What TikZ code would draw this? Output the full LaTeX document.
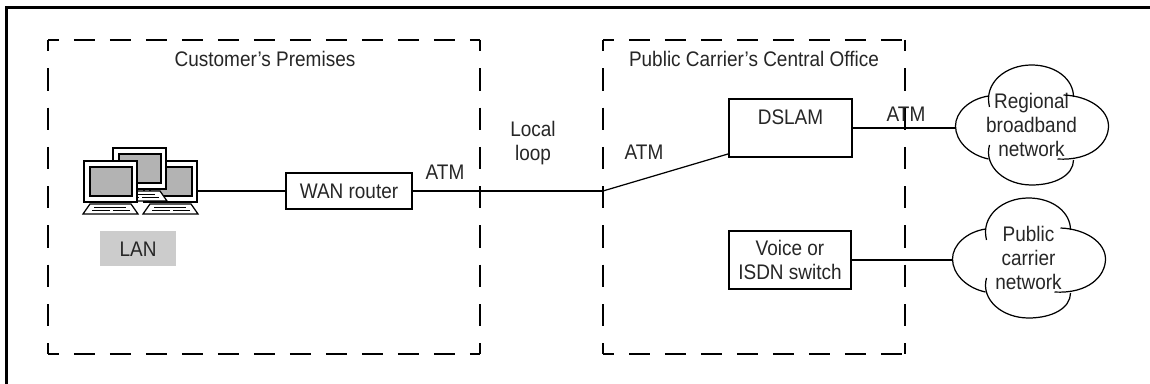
\documentclass[tikz,border=0pt]{standalone}
\usepackage{fontspec}
\setmainfont[FakeStretch=0.90]{Liberation Sans}
\usepackage{tikz}
\definecolor{LanGray}{HTML}{CCCCCC}
\definecolor{ScreenGray}{HTML}{B3B3B3}
\tikzset{
  frameline/.style={line width=1.7pt},
  wire/.style={line width=1.1pt},
  thinwire/.style={line width=0.7pt},
  cloudline/.style={line width=0.7pt},
  hdash/.style={line width=1.1pt, dash pattern=on 0.42cm off 0.30cm, dash phase=0.20cm},
  vdash/.style={line width=1.1pt, dash pattern=on 0.446cm off 0.34cm, dash phase=0.22cm},
  boxnode/.style={draw, line width=1.1pt, fill=white, inner sep=0pt},
  textnode/.style={font=\fontsize{12}{13.7}\selectfont, inner sep=0pt, align=center, text=black!85},
  cloudtext/.style={textnode, minimum width=3.06cm},
  cloudshape/.pic={
    \draw[cloudline] (-42,-18) .. controls (-48,-42) and (-26,-60) .. (0,-60) .. controls (24,-60) and (42,-46) .. (42,-28);
    \draw[cloudline] (32,-30) .. controls (58,-29) and (77,-15) .. (77,1) .. controls (77,18) and (60,36) .. (26,34);
    \draw[cloudline] (-42,20) .. controls (-48,42) and (-26,60) .. (0,60) .. controls (24,60) and (42,50) .. (42,35);
    \draw[cloudline] (-43,-29) .. controls (-62,-26) and (-76,-13) .. (-76,1) .. controls (-76,16) and (-62,30) .. (-43,34);
  },
  % one computer, origin at the monitor's top left corner
  pcunit/.pic={
    \draw[line width=0.7pt, fill=white] (-1,53) -- (6,43) -- (47,43) -- (54,53) -- cycle;
    \draw[line width=1pt] (8,49.5) -- (26,49.5) (29,49.5) -- (46,49.5);
    \draw[line width=0.7pt] (10,46.5) -- (42,46.5);
    \draw[line width=1.2pt, fill=white] (0,0) rectangle (53,41);
    \draw[line width=1.2pt, fill=ScreenGray] (6,6) rectangle (48,35);
  }
}
\begin{document}
\begin{tikzpicture}[x=0.02cm, y=-0.02cm]
  \useasboundingbox (0,0) rectangle (1150,384);
  % Outer frame, open on the right and at the bottom
  \draw[frameline] (1150,7.3) -- (6.5,7.3) -- (6.5,384);
  % Customer's premises
  \draw[hdash] (48,40) -- (480,40);
  \draw[hdash] (48,354) -- (480,354);
  \draw[vdash] (48,40) -- (48,354);
  \draw[vdash] (480,40) -- (480,354);
  % Central office
  \draw[hdash] (603,40) -- (905,40);
  \draw[hdash] (603,354) -- (905,354);
  \draw[vdash] (603,40) -- (603,354);
  \draw[vdash] (905,40) -- (905,354);
  % Region titles
  \node[textnode] (premises) at (265,59) {Customer's Premises};
  \node[textnode] (office) at (754,59) {Public Carrier's Central Office};
  % Computers: back one goes over the right one, front one over both
  \pic at (144,161) {pcunit};
  \pic at (113,148) {pcunit};
  \pic at (84,161) {pcunit};
  \coordinate (pcs) at (197,191);
  \node[textnode, fill=LanGray, minimum width=1.52cm, minimum height=0.70cm] (lan) at (138,249) {LAN};
  % Boxes
  \node[boxnode, minimum width=2.52cm, minimum height=0.72cm, textnode, draw] (wan) at (349,191) {WAN router};
  \node[boxnode, minimum width=2.46cm, minimum height=1.16cm] (dslam) at (790.5,128) {};
  \node[textnode] (dslamtext) at (790.5,117) {DSLAM};
  \node[boxnode, minimum width=2.44cm, minimum height=1.16cm, textnode, draw] (voice) at (790,260) {Voice or\\ISDN switch};
  % Clouds
  \node[cloudtext] (regional) at (1031.5,125) {Regional\\broadband\\network};
  \node[cloudtext] (public) at (1028.5,258) {Public\\carrier\\network};
  \pic at (regional.center) {cloudshape};
  \pic at (public.center) {cloudshape};
  % Connectors
  \coordinate (handoff) at (603,191);
  \coordinate (dslamin) at (729,153.7);
  \draw[wire] (pcs) -- (wan);
  \draw[wire] (wan) -- (handoff);
  \draw[thinwire] (handoff) -- (dslamin);
  \draw[wire] (dslam.east) -- (dslam.east -| regional.west);
  \draw[wire] (voice.east) -- (voice.east -| public.west);
  % Line labels
  \node[textnode] (atmwan) at (445,172) {ATM};
  \node[textnode] (loop) at (533,143.5) {Local\\loop};
  \node[textnode] (atmoffice) at (644,152) {ATM};
  \node[textnode] (atmdslam) at (906,114) {ATM};
\end{tikzpicture}
\end{document}
